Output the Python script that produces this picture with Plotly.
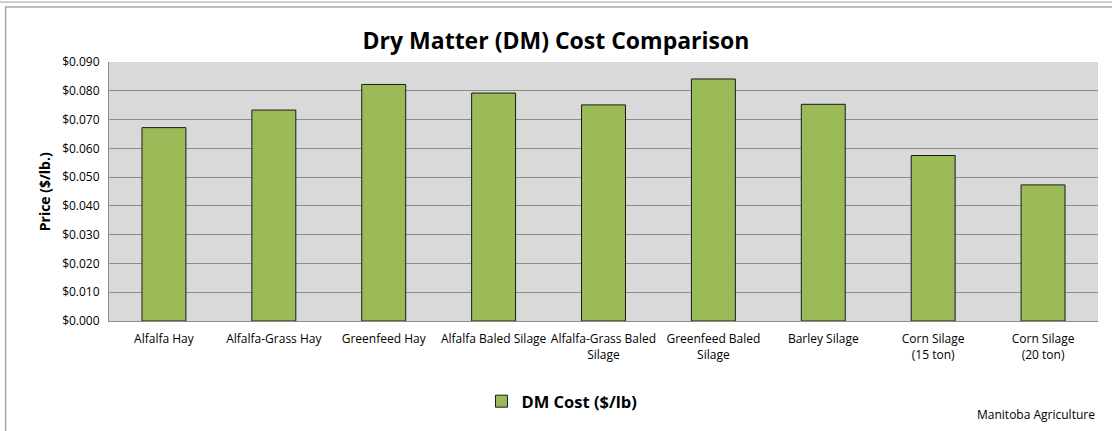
import plotly.graph_objects as go

categories = ["Alfalfa Hay", "Alfalfa-Grass Hay", "Greenfeed Hay", "Alfalfa Baled Silage",
              "Alfalfa-Grass Baled<br>Silage", "Greenfeed Baled<br>Silage", "Barley Silage",
              "Corn Silage<br>(15 ton)", "Corn Silage<br>(20 ton)"]
dm_cost = [0.0672, 0.0733, 0.0822, 0.0792, 0.0751, 0.0841, 0.0753, 0.0575, 0.0473]
tick_vals = [0.0, 0.01, 0.02, 0.03, 0.04, 0.05, 0.06, 0.07, 0.08, 0.09]
tick_text = ["$%.3f" % v for v in tick_vals]

W, H = 1112, 431
L, R, T, B = 109.3, 1097.7, 62.3, 321.5

def px(x):
    return (x - L) / (R - L)

def py(y):
    return (B - y) / (B - T)

FONT = "Open Sans, sans-serif"

fig = go.Figure()
fig.add_trace(go.Bar(
    x=categories, y=dm_cost, name="DM Cost ($/lb)",
    marker=dict(color="#9BBB59", line=dict(color="#1a1a1a", width=1)),
    width=0.4,
))

fig.update_layout(
    width=W, height=H,
    margin=dict(l=L, r=W - R, t=T, b=H - B, pad=0),
    paper_bgcolor="white", plot_bgcolor="#D9D9D9",
    font=dict(family=FONT, color="black", size=12),
    title=dict(text="<b>Dry Matter (DM) Cost Comparison</b>", x=px(556), xanchor="center",
               xref="paper", y=1 - 41 / H, yanchor="middle",
               font=dict(size=23, family=FONT)),
    showlegend=True,
    legend=dict(orientation="h", x=px(562), xanchor="center", y=py(402), yanchor="middle",
                font=dict(size=16.5, family=FONT, weight="bold"), itemwidth=30,
                bgcolor="rgba(0,0,0,0)"),
    bargap=0.6,
    xaxis=dict(showline=True, linecolor="#8c8c8c", linewidth=1, tickfont=dict(size=12),
               ticks="", showgrid=False, ticklabelstandoff=7),
    yaxis=dict(range=[0, 0.09], tickvals=tick_vals, ticktext=tick_text,
               showgrid=True, gridcolor="#8c8c8c", gridwidth=1,
               showline=True, linecolor="#8c8c8c", linewidth=1, ticks="",
               tickfont=dict(size=12), zeroline=False, ticklabelstandoff=6),
    shapes=[
        dict(type="line", xref="paper", yref="paper", x0=px(0), x1=px(1130), y0=py(2.3), y1=py(2.3),
             line=dict(color="#9a9a9a", width=1)),
        dict(type="rect", xref="paper", yref="paper", x0=px(6), x1=px(1130), y0=py(7.3), y1=py(450),
             line=dict(color="#a8a8a8", width=1.5), fillcolor="rgba(0,0,0,0)", layer="below"),
    ],
    annotations=[
        dict(text="<b>Price ($/lb.)</b>", xref="paper", yref="paper", x=px(45), y=py(192),
             xanchor="center", yanchor="middle", textangle=-90, showarrow=False,
             font=dict(size=14, family=FONT)),
        dict(text="Manitoba Agriculture", xref="paper", yref="paper", x=px(1097), y=py(415),
             xanchor="right", yanchor="middle", showarrow=False, font=dict(size=12, family=FONT)),
    ],
)

fig.write_html("out.html", config={"displayModeBar": False},
               post_script="document.body.style.margin='0';")
